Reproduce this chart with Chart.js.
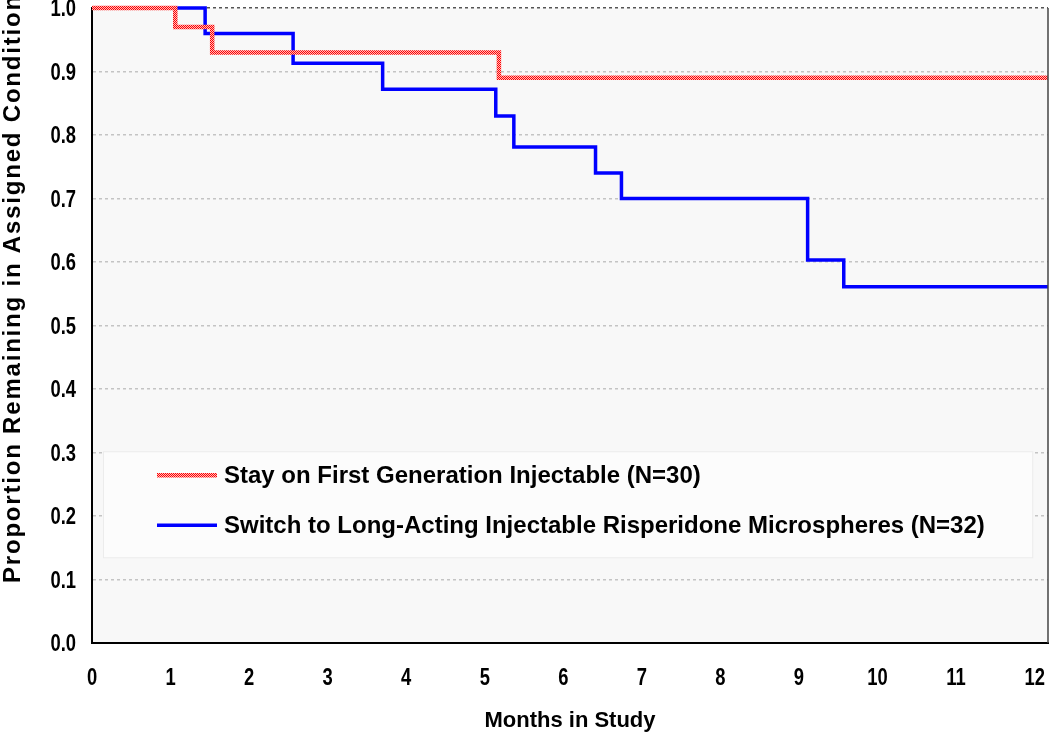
<!DOCTYPE html>
<html lang="en">
<head>
    <meta charset="UTF-8">
    <title>Proportion Remaining in Assigned Condition</title>
    <script src="https://cdn.jsdelivr.net/npm/chart.js@4.4.1/dist/chart.umd.min.js"></script>
    <style>
        html, body {
            margin: 0;
            padding: 0;
            background-color: #ffffff;
        }
        .chart-container {
            position: relative;
            width: 1050px;
            height: 734px;
        }
    </style>
</head>
<body>
    <div class="chart-container">
        <canvas id="myChart"></canvas>
    </div>

    <script>
        // Kaplan-Meier steps (months, proportion)
        const stayMonths = [0, 1.06, 1.53, 5.18, 12.17];
        const stayValues = [1.0, 0.97, 0.93, 0.89, 0.89];
        const switchMonths = [0, 1.44, 2.56, 3.70, 5.14, 5.37, 6.41, 6.74, 9.11, 9.57, 12.17];
        const switchValues = [1.0, 0.96, 0.913, 0.872, 0.83, 0.781, 0.74, 0.70, 0.603, 0.561, 0.561];
        const seriesLabels = [
            'Stay on First Generation Injectable (N=30)',
            'Switch to Long-Acting Injectable Risperidone Microspheres (N=32)'
        ];
        const xTickValues = [0, 1, 2, 3, 4, 5, 6, 7, 8, 9, 10, 11, 12];
        const yTickValues = [0, 0.1, 0.2, 0.3, 0.4, 0.5, 0.6, 0.7, 0.8, 0.9, 1.0];
        const xTitle = 'Months in Study';
        const yTitle = 'Proportion Remaining in Assigned Condition';

        const fontFamily = '"Liberation Sans", Arial, sans-serif';

        // red/white checker texture for the dotted red line
        function makeChecker() {
            const c = document.createElement('canvas');
            c.width = 2; c.height = 2;
            const g = c.getContext('2d');
            g.fillStyle = '#ffbcbc';
            g.fillRect(0, 0, 2, 2);
            g.fillStyle = '#ff0000';
            g.fillRect(0, 0, 1, 1);
            g.fillRect(1, 1, 1, 1);
            return c;
        }

        const ctx = document.getElementById('myChart').getContext('2d');
        const redPattern = ctx.createPattern(makeChecker(), 'repeat');

        // tick labels are a narrow bold face in the original: draw them squeezed
        function narrowText(c, text, x, y, align) {
            c.save();
            c.translate(x, y);
            c.scale(0.8, 1);
            c.textAlign = align;
            c.fillText(text, 0, 0);
            c.restore();
        }

        const framePlugin = {
            id: 'frame',
            beforeDraw(chart) {
                const a = chart.chartArea;
                const c = chart.ctx;
                c.save();
                c.fillStyle = '#f8f8f8';
                c.fillRect(a.left, a.top, a.right - a.left, a.bottom - a.top);
                c.restore();
            },
            afterDatasetsDraw(chart) {
                const xs = chart.scales.x;
                const ys = chart.scales.y;
                const c = chart.ctx;
                // legend box sits inside the plot area
                const bx = xs.getPixelForValue(0.14);
                const bw = xs.getPixelForValue(11.97) - bx;
                const by = ys.getPixelForValue(0.302);
                const bh = ys.getPixelForValue(0.135) - by;
                c.save();
                c.fillStyle = '#fcfcfc';
                c.strokeStyle = '#ececec';
                c.lineWidth = 1;
                c.fillRect(bx, by, bw, bh);
                c.strokeRect(bx + 0.5, by + 0.5, bw, bh);
                const rows = [by + 24, by + 74];
                chart.data.datasets.forEach((ds, i) => {
                    const y = rows[i];
                    c.strokeStyle = ds.borderColor;
                    c.lineWidth = ds.borderWidth;
                    c.beginPath();
                    c.moveTo(bx + 54, y);
                    c.lineTo(bx + 114, y);
                    c.stroke();
                    c.fillStyle = '#000';
                    c.font = 'bold 24px ' + fontFamily;
                    c.textAlign = 'left';
                    c.textBaseline = 'middle';
                    c.fillText(ds.label, bx + 121, y + 1);
                });
                c.restore();
            },
            afterDraw(chart) {
                const a = chart.chartArea;
                const xs = chart.scales.x;
                const ys = chart.scales.y;
                const c = chart.ctx;
                c.save();
                // right border
                c.strokeStyle = '#444';
                c.lineWidth = 1.5;
                c.beginPath();
                c.moveTo(a.right, a.top);
                c.lineTo(a.right, a.bottom);
                c.stroke();
                // tick labels
                c.fillStyle = '#000';
                c.font = 'bold 23px ' + fontFamily;
                c.textBaseline = 'middle';
                ys.ticks.forEach(t => {
                    narrowText(c, t.value.toFixed(1), a.left - 16, ys.getPixelForValue(t.value) + 2, 'right');
                });
                xs.ticks.forEach(t => {
                    narrowText(c, String(t.value), xs.getPixelForValue(t.value), a.bottom + 36, 'center');
                });
                // y axis title
                c.font = 'bold 24px ' + fontFamily;
                c.letterSpacing = '1.8px';
                c.translate(13, 583);
                c.rotate(-Math.PI / 2);
                c.textAlign = 'left';
                c.textBaseline = 'middle';
                c.fillText(yTitle, 0, 0);
                c.restore();
            }
        };

        const chart = new Chart(ctx, {
            type: 'line',
            data: {
                datasets: [{
                    label: seriesLabels[0],
                    data: stayMonths.map((m, i) => ({ x: m, y: stayValues[i] })),
                    borderColor: redPattern,
                    borderWidth: 4.5,
                    stepped: 'before',
                    pointRadius: 0,
                    fill: false
                }, {
                    label: seriesLabels[1],
                    data: switchMonths.map((m, i) => ({ x: m, y: switchValues[i] })),
                    borderColor: '#0000ff',
                    borderWidth: 3.5,
                    stepped: 'before',
                    pointRadius: 0,
                    fill: false
                }]
            },
            options: {
                responsive: true,
                maintainAspectRatio: false,
                animation: false,
                clip: false,
                layout: {
                    padding: { top: 8, right: 2, left: 0, bottom: 0 }
                },
                plugins: {
                    legend: { display: false },
                    tooltip: { enabled: false }
                },
                scales: {
                    x: {
                        type: 'linear',
                        min: 0,
                        max: 12.17,
                        afterBuildTicks(scale) {
                            scale.ticks = xTickValues.map(v => ({ value: v }));
                        },
                        afterFit(scale) {
                            scale.height = 91;
                        },
                        ticks: {
                            display: false
                        },
                        grid: {
                            display: false,
                            drawTicks: false
                        },
                        border: {
                            display: true,
                            color: '#000',
                            width: 2
                        },
                        title: {
                            display: true,
                            text: xTitle,
                            color: '#000',
                            padding: { top: 14, bottom: 0 },
                            font: { family: fontFamily, size: 22, weight: 'bold' }
                        }
                    },
                    y: {
                        min: 0,
                        max: 1.0,
                        afterBuildTicks(scale) {
                            scale.ticks = yTickValues.map(v => ({ value: v }));
                        },
                        afterFit(scale) {
                            scale.width = 92;
                        },
                        ticks: {
                            display: false
                        },
                        grid: {
                            drawTicks: false,
                            color: ctx => ctx.tick.value === 1 ? '#555' : '#c4c4c4',
                            lineWidth: 1.5
                        },
                        border: {
                            display: true,
                            color: '#000',
                            width: 2,
                            dash: [3, 3]
                        }
                    }
                }
            },
            plugins: [framePlugin]
        });
    </script>
</body>
</html>
